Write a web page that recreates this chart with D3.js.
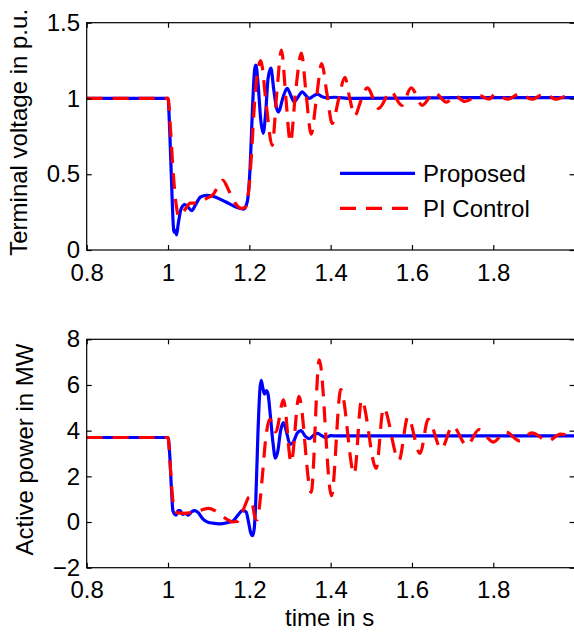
<!DOCTYPE html>
<html>
<head>
<meta charset="utf-8">
<script src="https://cdn.jsdelivr.net/npm/d3@7"></script>
<style>
  html, body { margin: 0; padding: 0; background: #fff; }
  svg { display: block; }
  text { font-family: "Liberation Sans", Arial, Helvetica, sans-serif; fill: #000; }
</style>
</head>
<body>
<svg id="chart" width="574" height="633"></svg>
<script>
// Time axis (s)
const timeTicks = [0.8, 1.0, 1.2, 1.4, 1.6, 1.8];
const timeTickLabels = ["0.8", "1", "1.2", "1.4", "1.6", "1.8"];

// Terminal voltage (p.u.)
const voltageTicks = [0, 0.5, 1.0, 1.5];
const voltageTickLabels = ["0", "0.5", "1", "1.5"];

// Active power (MW)
const powerTicks = [-2, 0, 2, 4, 6, 8];
const powerTickLabels = ["\u22122", "0", "2", "4", "6", "8"];

const seriesNames = ["Proposed", "PI Control"];

// [time, voltage] – proposed controller
const voltageProposed = [
  [0.8, 1.0], [1.0, 1.0], [1.004, 0.8], [1.01, 0.35], [1.014, 0.13], [1.017, 0.115],
  [1.019, 0.13], [1.021, 0.10], [1.025, 0.17], [1.032, 0.27], [1.041, 0.30], [1.05, 0.28],
  [1.058, 0.26], [1.068, 0.30], [1.08, 0.35], [1.095, 0.36], [1.11, 0.355], [1.14, 0.32],
  [1.17, 0.28], [1.186, 0.27], [1.195, 0.32], [1.202, 0.55], [1.208, 0.95], [1.213, 1.19],
  [1.216, 1.22], [1.222, 1.08], [1.228, 0.86], [1.234, 0.77], [1.24, 0.9], [1.246, 1.13],
  [1.253, 1.2], [1.26, 1.06], [1.266, 0.95], [1.272, 0.91], [1.282, 1.0], [1.293, 1.067],
  [1.302, 1.02], [1.31, 0.978], [1.32, 1.01], [1.33, 1.044], [1.339, 1.02], [1.347, 1.0],
  [1.357, 1.015], [1.367, 1.029], [1.377, 1.015], [1.388, 1.005], [1.41, 1.008], [1.45, 1.0],
  [1.6, 1.002], [1.7, 1.006], [2.0, 1.005]
];

// [time, voltage] – PI controller
const voltagePI = [
  [0.8, 1.0], [1.0, 1.0], [1.006, 0.8], [1.013, 0.5], [1.02, 0.3], [1.027, 0.22],
  [1.04, 0.26], [1.055, 0.31], [1.075, 0.31], [1.095, 0.34], [1.112, 0.37], [1.125, 0.43],
  [1.135, 0.46], [1.15, 0.39], [1.165, 0.31], [1.18, 0.275], [1.19, 0.28], [1.198, 0.38],
  [1.205, 0.62], [1.213, 0.98], [1.22, 1.17], [1.228, 1.25], [1.242, 0.95], [1.256, 0.69],
  [1.268, 1.05], [1.279, 1.32], [1.29, 1.0], [1.301, 0.71], [1.314, 1.05], [1.328, 1.30],
  [1.34, 1.02], [1.352, 0.765], [1.365, 1.0], [1.378, 1.23], [1.391, 1.03], [1.404, 0.835],
  [1.42, 1.0], [1.435, 1.14], [1.447, 1.0], [1.459, 0.885], [1.475, 0.99], [1.49, 1.07],
  [1.518, 0.935], [1.548, 1.045], [1.575, 0.955], [1.598, 1.07], [1.625, 0.955], [1.655, 1.04],
  [1.685, 0.975], [1.705, 1.02], [1.73, 0.98], [1.765, 1.02], [1.79, 0.995], [1.805, 1.03],
  [1.835, 0.995], [1.865, 1.03], [1.895, 0.995], [1.925, 1.03], [1.955, 0.995], [1.985, 1.02],
  [2.0, 1.01]
];

// [time, power] – proposed controller
const powerProposed = [
  [0.8, 3.7], [1.0, 3.7], [1.004, 3.0], [1.008, 1.6], [1.012, 0.5], [1.016, 0.35],
  [1.02, 0.3], [1.025, 0.5], [1.03, 0.5], [1.036, 0.33], [1.043, 0.38], [1.05, 0.3],
  [1.058, 0.45], [1.066, 0.5], [1.075, 0.4], [1.085, 0.15], [1.095, 0.02], [1.11, -0.05],
  [1.126, -0.08], [1.145, -0.03], [1.16, 0.05], [1.172, 0.3], [1.183, 0.5], [1.192, 0.45],
  [1.198, 0.0], [1.203, -0.45], [1.208, -0.6], [1.212, -0.3], [1.216, 1.0], [1.221, 3.8],
  [1.226, 5.8], [1.229, 6.2], [1.233, 5.9], [1.237, 5.6], [1.242, 5.75], [1.246, 5.6],
  [1.252, 4.6], [1.258, 3.5], [1.264, 2.8], [1.27, 3.1], [1.277, 4.0], [1.284, 4.35],
  [1.292, 3.9], [1.3, 3.4], [1.308, 3.5], [1.318, 3.9], [1.327, 4.0], [1.338, 3.75],
  [1.348, 3.65], [1.358, 3.8], [1.368, 3.88], [1.378, 3.78], [1.388, 3.7], [1.4, 3.78],
  [1.42, 3.77], [2.0, 3.77]
];

// [time, power] – PI controller
const powerPI = [
  [0.8, 3.7], [1.0, 3.7], [1.005, 2.6], [1.01, 1.3], [1.016, 0.5], [1.025, 0.4],
  [1.04, 0.38], [1.06, 0.42], [1.08, 0.52], [1.1, 0.6], [1.115, 0.5], [1.13, 0.3],
  [1.145, 0.12], [1.16, 0.0], [1.17, 0.02], [1.18, 0.3], [1.19, 0.75], [1.2, 1.1],
  [1.207, 0.85], [1.214, 0.2], [1.219, 0.1], [1.225, 0.7], [1.232, 2.0], [1.24, 3.6],
  [1.25, 4.5], [1.265, 3.95], [1.284, 5.35], [1.303, 2.6], [1.322, 5.5], [1.352, 1.3],
  [1.372, 7.1], [1.402, 1.15], [1.425, 5.8], [1.458, 2.1], [1.476, 5.35], [1.512, 2.35],
  [1.53, 5.0], [1.568, 2.7], [1.59, 4.6], [1.62, 3.0], [1.64, 4.5], [1.672, 3.2],
  [1.70, 4.2], [1.735, 3.35], [1.765, 4.05], [1.80, 3.5], [1.83, 3.95], [1.865, 3.55],
  [1.895, 3.9], [1.935, 3.55], [1.965, 3.85], [2.0, 3.72]
];

const svg = d3.select("#chart");
const FONT = 24;
const plotLeft = 86.7, plotRight = 574.6;

const x = d3.scaleLinear().domain([0.8, 2.0]).range([plotLeft, plotRight]);

const panels = [
  {
    top: 22.7, bottom: 250, domain: [0, 1.5],
    ticks: voltageTicks, tickLabels: voltageTickLabels,
    label: "Terminal voltage in p.u.", labelX: 27,
    series: [voltageProposed, voltagePI], legend: true
  },
  {
    top: 339.3, bottom: 567.7, domain: [-2, 8],
    ticks: powerTicks, tickLabels: powerTickLabels,
    label: "Active power in MW", labelX: 33,
    series: [powerProposed, powerPI], legend: false
  }
];

const styles = [
  { color: "#0000ff", dash: null },
  { color: "#ff0000", dash: "16,10" }
];

panels.forEach((p, i) => {
  const y = d3.scaleLinear().domain(p.domain).range([p.bottom, p.top]);
  const g = svg.append("g");

  const clipId = "clip" + i;
  svg.append("clipPath").attr("id", clipId)
    .append("rect")
    .attr("x", plotLeft).attr("y", p.top)
    .attr("width", plotRight - plotLeft).attr("height", p.bottom - p.top);

  const line = d3.line()
    .x(d => x(d[0])).y(d => y(d[1]))
    .curve(d3.curveMonotoneX);

  p.series.forEach((s, k) => {
    g.append("path")
      .datum(s)
      .attr("clip-path", `url(#${clipId})`)
      .attr("fill", "none")
      .attr("stroke", styles[k].color)
      .attr("stroke-width", 3.2)
      .attr("stroke-linejoin", "round")
      .attr("stroke-dasharray", styles[k].dash)
      .attr("d", line);
  });

  // Frame
  g.append("rect")
    .attr("x", plotLeft).attr("y", p.top)
    .attr("width", plotRight - plotLeft).attr("height", p.bottom - p.top)
    .attr("fill", "none").attr("stroke", "#000").attr("stroke-width", 1.2);

  // Bottom axis with labels, ticks pointing inward
  const xAxis = d3.axisBottom(x)
    .tickValues(timeTicks)
    .tickFormat((d, j) => timeTickLabels[j])
    .tickSizeInner(-5).tickSizeOuter(0).tickPadding(13.5);
  const gx = g.append("g").attr("transform", `translate(0,${p.bottom})`).call(xAxis);

  // Mirrored ticks along the top edge
  const gxt = g.append("g").attr("transform", `translate(0,${p.top})`)
    .call(d3.axisTop(x).tickValues(timeTicks).tickFormat("").tickSizeInner(-5).tickSizeOuter(0));

  // Left axis with labels
  const yAxis = d3.axisLeft(y)
    .tickValues(p.ticks)
    .tickFormat((d, j) => p.tickLabels[j])
    .tickSizeInner(-5).tickSizeOuter(0).tickPadding(6.7);
  const gy = g.append("g").attr("transform", `translate(${plotLeft},0)`).call(yAxis);

  // Mirrored ticks along the right edge
  const gyr = g.append("g").attr("transform", `translate(${plotRight},0)`)
    .call(d3.axisRight(y).tickValues(p.ticks).tickFormat("").tickSizeInner(-5).tickSizeOuter(0));

  [gx, gxt, gy, gyr].forEach(a => {
    a.select(".domain").remove();
    a.selectAll(".tick line").attr("stroke", "#000").attr("stroke-width", 1.2);
    a.selectAll(".tick text")
      .style("font-family", '"Liberation Sans", Arial, Helvetica, sans-serif')
      .style("font-size", FONT + "px").attr("fill", "#000");
  });

  // Y axis title
  g.append("text")
    .attr("transform", `translate(${p.labelX},${(p.top + p.bottom) / 2 - 4}) rotate(-90)`)
    .attr("text-anchor", "middle")
    .style("font-size", FONT + "px")
    .text(p.label);

  if (p.legend) {
    const lg = g.append("g");
    const rows = [173.3, 208.3];
    seriesNames.forEach((name, k) => {
      lg.append("line")
        .attr("x1", 340).attr("x2", 415)
        .attr("y1", rows[k]).attr("y2", rows[k])
        .attr("stroke", styles[k].color)
        .attr("stroke-width", 3.2)
        .attr("stroke-dasharray", styles[k].dash);
      lg.append("text")
        .attr("x", 423).attr("y", rows[k]).attr("dy", "0.35em")
        .style("font-size", FONT + "px")
        .text(name);
    });
  }
});

// X axis title
svg.append("text")
  .attr("x", (plotLeft + plotRight) / 2 - 1)
  .attr("y", 626)
  .attr("text-anchor", "middle")
  .style("font-size", FONT + "px")
  .text("time in s");
</script>
</body>
</html>
